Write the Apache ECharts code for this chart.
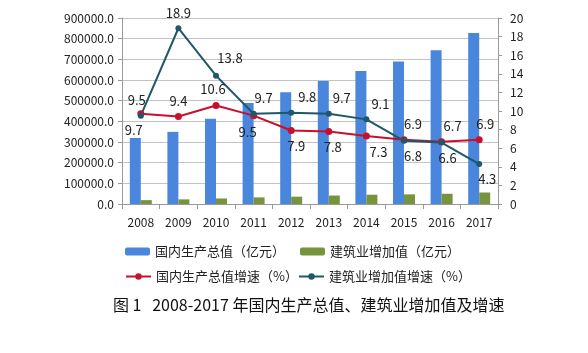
<!DOCTYPE html>
<html>
<head>
<meta charset="utf-8">
<script src="https://cdn.jsdelivr.net/npm/echarts@6/dist/echarts.min.js"></script>
<style>
  html, body { margin: 0; padding: 0; background: #fff; }
  #chart { width: 588px; height: 353px; }
</style>
</head>
<body>
<div id="chart"></div>
<script>
// 数据
const years = ['2008', '2009', '2010', '2011', '2012', '2013', '2014', '2015', '2016', '2017']
const gdp = [319516, 349081, 413030, 489301, 540367, 595244, 643974, 689052, 743586, 827122]
const buildValue = [18743, 22398, 26661, 31943, 35491, 40897, 44881, 46627, 49522, 55689]
const gdpRate = [9.7, 9.4, 10.6, 9.5, 7.9, 7.8, 7.3, 6.9, 6.7, 6.9]
const buildRate = [9.5, 18.9, 13.8, 9.7, 9.8, 9.7, 9.1, 6.8, 6.6, 4.3]

// 数据标签位置 [position, dx, dy]
const gdpLabelPos = [
  ['bottom', -7, 0], ['top', 0, 0], ['top', -3, 0], ['bottom', -6, 0], ['bottom', 5, 0],
  ['bottom', 4, 0], ['bottom', 12, 0], ['top', 9, 0], ['top', 11, 0], ['top', 6, 0]
]
const buildLabelPos = [
  ['top', -4, 0], ['top', 0, 0], ['top', 14, -2], ['top', 10, 0], ['top', 16, 0],
  ['top', 13, 0], ['top', 14, 0], ['bottom', 9, 0], ['bottom', 6, 0], ['bottom', 8, 0]
]

const font = '"Noto Sans CJK SC", "Liberation Sans", sans-serif'

function withLabels(values, pos) {
  return values.map((v, i) => ({
    value: v,
    label: { position: pos[i][0], offset: [pos[i][1], pos[i][2]] }
  }))
}

function legendItem(name, left, top) {
  return {
    left: left,
    top: top,
    itemWidth: 25,
    itemHeight: 8,
    textStyle: { fontSize: 13, color: '#222' },
    data: [name]
  }
}

const chart = echarts.init(document.getElementById('chart'))
chart.setOption({
  animation: false,
  textStyle: { fontFamily: font },
  title: {
    text: '图 1   2008-2017 年国内生产总值、建筑业增加值及增速',
    left: 108,
    top: 292,
    textStyle: { fontSize: 16, fontWeight: 'normal', color: '#111', fontFamily: font }
  },
  legend: [
    legendItem('国内生产总值（亿元）', 120, 240),
    legendItem('建筑业增加值（亿元）', 295, 240),
    legendItem('国内生产总值增速（%）', 120, 265),
    legendItem('建筑业增加值增速（%）', 293, 265)
  ],
  grid: { left: 122, right: 90, top: 18, bottom: 149 },
  xAxis: {
    type: 'category',
    data: years,
    axisLine: { lineStyle: { color: '#999' } },
    axisTick: { show: true, lineStyle: { color: '#999' } },
    axisLabel: { color: '#222', fontSize: 12, margin: 12 }
  },
  yAxis: [{
    type: 'value',
    min: 0,
    max: 900000,
    interval: 100000,
    axisLine: { show: true, lineStyle: { color: '#999' } },
    axisTick: { show: true, length: 4, lineStyle: { color: '#999' } },
    axisLabel: { color: '#222', fontSize: 12, formatter: v => v.toFixed(1) },
    splitLine: { lineStyle: { color: '#c4c4c4' } }
  }, {
    type: 'value',
    min: 0,
    max: 20,
    interval: 2,
    axisLine: { show: true, lineStyle: { color: '#999' } },
    axisTick: { show: true, length: 4, lineStyle: { color: '#999' } },
    axisLabel: { color: '#222', fontSize: 12, margin: 12 },
    splitLine: { show: false }
  }],
  series: [{
    name: '国内生产总值（亿元）',
    type: 'bar',
    barWidth: 11,
    barGap: '0%',
    itemStyle: { color: '#4a86dc' },
    data: gdp
  }, {
    name: '建筑业增加值（亿元）',
    type: 'bar',
    barWidth: 11,
    itemStyle: { color: '#77933c' },
    data: buildValue
  }, {
    name: '国内生产总值增速（%）',
    type: 'line',
    yAxisIndex: 1,
    symbol: 'circle',
    symbolSize: 7,
    itemStyle: { color: '#c8102e' },
    lineStyle: { width: 2, color: '#c8102e' },
    label: { show: true, fontSize: 13, color: '#222', distance: 6 },
    data: withLabels(gdpRate, gdpLabelPos)
  }, {
    name: '建筑业增加值增速（%）',
    type: 'line',
    yAxisIndex: 1,
    symbol: 'circle',
    symbolSize: 6,
    itemStyle: { color: '#1f5868' },
    lineStyle: { width: 2, color: '#1f5868' },
    label: { show: true, fontSize: 13, color: '#222', distance: 6 },
    data: withLabels(buildRate, buildLabelPos)
  }]
})
</script>
</body>
</html>
